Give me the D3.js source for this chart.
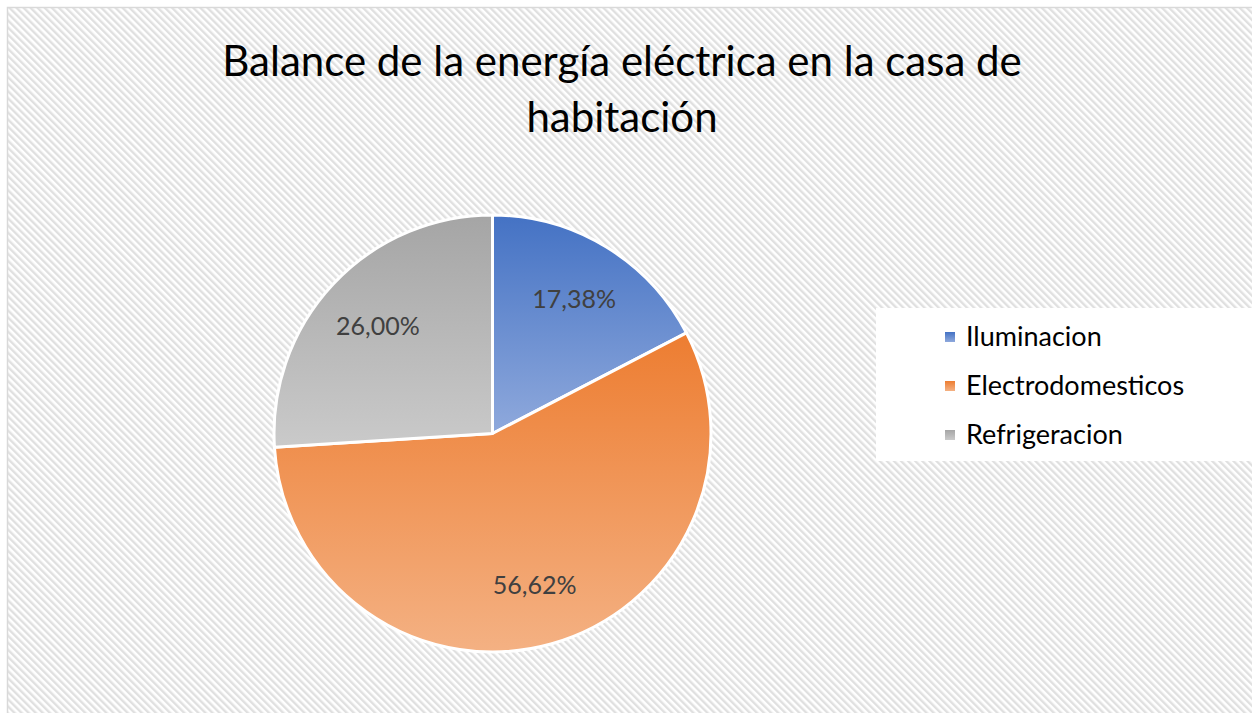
<!DOCTYPE html>
<html>
<head>
<meta charset="utf-8">
<script src="https://cdn.jsdelivr.net/npm/d3@7"></script>
<style>
  body { margin: 0; background: #fff; }
  svg { display: block; font-family: Lato, "Open Sans", sans-serif; }
</style>
</head>
<body>
<svg id="chart" width="1252" height="713"></svg>
<script>
// chart data
const titleLines = ["Balance de la energía eléctrica en la casa de", "habitación"];
const categories = ["Iluminacion", "Electrodomesticos", "Refrigeracion"];
const values = [17.38, 56.62, 26.00];
const labels = ["17,38%", "56,62%", "26,00%"];
const topColors = ["#4472c4", "#ed7d31", "#a5a5a5"];
const bottomColors = ["#8fa9dc", "#f4b183", "#cacaca"];

const svg = d3.select("#chart");
const defs = svg.append("defs");

// diagonal hatch background, stripes running top-left to bottom-right
const pat = defs.append("pattern")
    .attr("id", "hatch")
    .attr("patternUnits", "userSpaceOnUse")
    .attr("width", 5).attr("height", 5)
    .attr("patternTransform", "rotate(-45)");
pat.append("rect").attr("width", 5).attr("height", 5).attr("fill", "#fff");
pat.append("rect").attr("width", 2.4).attr("height", 5).attr("fill", "#e0e0e0");

svg.append("rect")
    .attr("x", 7.5).attr("y", 7.5)
    .attr("width", 1260).attr("height", 720)
    .attr("fill", "url(#hatch)")
    .attr("stroke", "#d9d9d9")
    .attr("stroke-width", 1.5);

// title
const title = svg.append("g");
titleLines.forEach((t, i) => {
    title.append("text")
        .attr("x", 622).attr("y", 76 + i * 56)
        .attr("text-anchor", "middle")
        .attr("font-size", 42)
        .attr("fill", "#000")
        .text(t);
});

// pie
const cx = 492.5, cy = 433.5, R = 218.5;
const pie = d3.pie().sort(null).value(d => d);
const arcs = pie(values);
const arc = d3.arc().innerRadius(0).outerRadius(R);
const labelArc = d3.arc().innerRadius(R * 0.72).outerRadius(R * 0.72);

arcs.forEach((a, i) => {
    // vertical gradient over each slice's own bounding box
    const g = defs.append("linearGradient")
        .attr("id", "grad" + i)
        .attr("x1", 0).attr("y1", 0).attr("x2", 0).attr("y2", 1);
    g.append("stop").attr("offset", "0%").attr("stop-color", topColors[i]);
    g.append("stop").attr("offset", "100%").attr("stop-color", bottomColors[i]);
});

const pieG = svg.append("g").attr("transform", `translate(${cx},${cy})`);
pieG.selectAll("path")
    .data(arcs)
    .join("path")
    .attr("d", arc)
    .attr("fill", (d, i) => `url(#grad${i})`)
    .attr("stroke", "#fff")
    .attr("stroke-width", 3)
    .attr("stroke-linejoin", "round");

pieG.selectAll("text.lbl")
    .data(arcs)
    .join("text")
    .attr("class", "lbl")
    .attr("transform", d => `translate(${labelArc.centroid(d)})`)
    .attr("text-anchor", "middle")
    .attr("dy", "0.35em")
    .attr("font-size", 25)
    .attr("fill", "#404040")
    .text((d, i) => labels[i]);

// legend
const leg = svg.append("g");
leg.append("rect")
    .attr("x", 876).attr("y", 308)
    .attr("width", 376).attr("height", 153)
    .attr("fill", "#fff");

const legY = d3.scalePoint().domain(categories).range([337, 435]);
categories.forEach((c, i) => {
    leg.append("rect")
        .attr("x", 945).attr("y", legY(c) - 5)
        .attr("width", 10).attr("height", 10)
        .attr("fill", `url(#grad${i})`);
    leg.append("text")
        .attr("x", 966).attr("y", legY(c))
        .attr("dy", "0.35em")
        .attr("font-size", 27)
        .attr("fill", "#000")
        .text(c);
});
</script>
</body>
</html>
